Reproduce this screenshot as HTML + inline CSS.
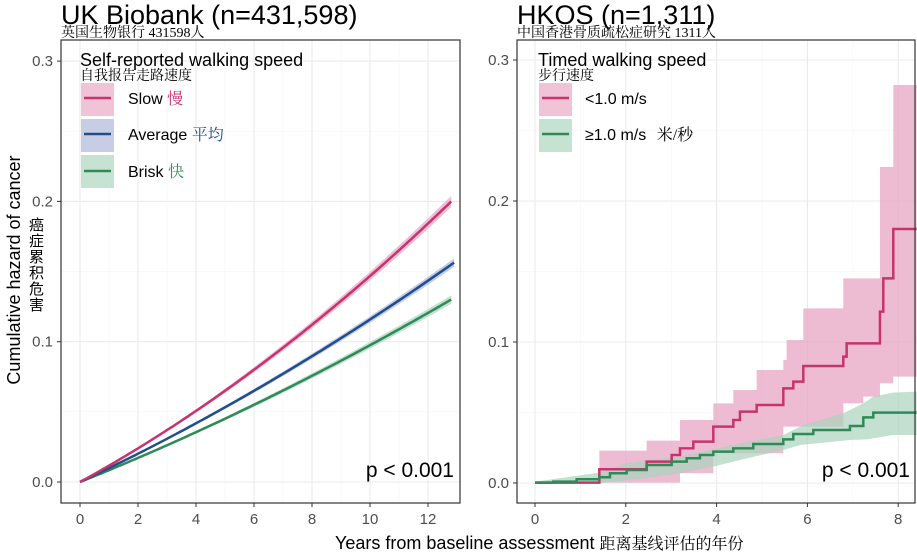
<!DOCTYPE html>
<html><head><meta charset="utf-8"><style>
body{margin:0;background:#fff;width:917px;height:553px;overflow:hidden}
svg{display:block}
text{font-family:"Liberation Sans",sans-serif}
.cn{font-family:"Liberation Serif","Noto Serif CJK SC",serif}
.tk{fill:#4d4d4d;font-size:15px}
</style></head><body>
<svg id="s" width="917" height="553" viewBox="0 0 917 553">
<g id="grid"></g>
<path id="lsb" fill="#e7a5c4" opacity="0.7"/>
<path id="lab" fill="#aab6d8" opacity="0.7"/>
<path id="lbb" fill="#a9d3bd" opacity="0.7"/>
<path id="lb" fill="none" stroke="#2e8b57" stroke-width="2.5"/>
<path id="la" fill="none" stroke="#1f4e8c" stroke-width="2.5"/>
<path id="ls" fill="none" stroke="#c8336e" stroke-width="2.5"/>
<g transform="translate(500,240) scale(0.3333)">
<path fill="#e7a5c4" opacity="0.75" d="M298,728 L298,632 440,632 440,602 540,602 540,540 640,540 640,490 700,490 700,450 770,450 770,390 850,390 850,360 860,360 860,300 910,300 910,205 1030,205 1030,115 1140,115 1140,-219 1180,-219 1180,-465 1250,-465 1250,410 1180,410 1180,430 1140,430 1140,470 1090,470 1090,490 1030,490 1030,560 850,560 850,640 640,640 640,700 540,700 540,728 Z"/>
<path fill="#a9d3bd" opacity="0.7" d="M105,728 L105,725 200,712 298,698 380,670 440,660 540,650 640,628 720,610 850,585 910,555 1030,520 1090,490 1120,470 1180,458 1250,455 1250,585 1180,585 1100,598 1050,600 900,615 850,630 720,660 640,680 540,700 440,715 298,730 200,732 105,730Z"/>
<path fill="none" stroke="#c8336e" stroke-width="7.5" d="M105,728 H298 V688 H440 V665 H515 V645 H540 V625 H580 V605 H640 V560 H700 V540 H720 V515 H770 V495 H850 V445 H880 V425 H910 V378 H1030 V350 H1040 V310 H1140 V215 H1150 V115 H1180 V-33 H1250"/>
<path fill="none" stroke="#2e8b57" stroke-width="7.5" d="M105,728 H160 V725 H230 V718 H298 V712 H330 V700 H380 V690 H440 V675 H515 V665 H560 V655 H600 V645 H640 V635 H700 V625 H760 V612 H850 V598 H880 V582 H940 V570 H1050 V558 H1090 V532 H1120 V518 H1250"/>
</g>
<rect x="61" y="40" width="399" height="463" fill="none" stroke="#333" stroke-width="1.2"/>
<rect x="517" y="40" width="398" height="463" fill="none" stroke="#333" stroke-width="1.2"/>
<g id="ticks"></g>
<text x="61" y="24" font-size="27" fill="#000">UK Biobank (n=431,598)</text>
<text x="61" y="37" class="cn" font-size="14">英国生物银行 431598人</text>
<text x="517" y="24" font-size="27">HKOS (n=1,311)</text>
<text x="517" y="37" class="cn" font-size="14">中国香港骨质疏松症研究 1311人</text>
<text x="80" y="66" font-size="18">Self-reported walking speed</text>
<text x="80" y="80" class="cn" font-size="14">自我报告走路速度</text>
<rect x="81" y="83" width="33" height="33" fill="#f1c3d7"/><line x1="84" y1="98" x2="111" y2="98" stroke="#c8336e" stroke-width="2.5"/>
<text x="128" y="104" font-size="16">Slow <tspan class="cn" fill="#c8336e">慢</tspan></text>
<rect x="81" y="119" width="33" height="33" fill="#c6cde5"/><line x1="84" y1="134" x2="111" y2="134" stroke="#1f4e8c" stroke-width="2.5"/>
<text x="128" y="140" font-size="16">Average <tspan class="cn" fill="#1f4e8c">平均</tspan></text>
<rect x="81" y="155" width="33" height="33" fill="#c6e2d2"/><line x1="84" y1="171" x2="111" y2="171" stroke="#2e8b57" stroke-width="2.5"/>
<text x="128" y="177" font-size="16">Brisk <tspan class="cn" fill="#2e8b57">快</tspan></text>
<text x="538" y="66" font-size="18">Timed walking speed</text>
<text x="538" y="80" class="cn" font-size="14">步行速度</text>
<rect x="539" y="83" width="33" height="33" fill="#f1c3d7"/><line x1="542" y1="98" x2="569" y2="98" stroke="#c8336e" stroke-width="2.5"/>
<text x="585" y="104" font-size="16">&lt;1.0 m/s</text>
<rect x="539" y="119" width="33" height="33" fill="#c6e2d2"/><line x1="542" y1="134" x2="569" y2="134" stroke="#2e8b57" stroke-width="2.5"/>
<text x="585" y="140" font-size="16">≥1.0 m/s <tspan class="cn" dx="6">米/秒</tspan></text>
<text x="454" y="477" font-size="21" text-anchor="end">p &lt; 0.001</text>
<text x="910" y="477" font-size="21" text-anchor="end">p &lt; 0.001</text>
<text transform="translate(20,270) rotate(-90)" font-size="18" text-anchor="middle">Cumulative hazard of cancer</text>
<g class="cn" font-size="15"><text x="29" y="230">癌</text><text x="29" y="246">症</text><text x="29" y="262">累</text><text x="29" y="278">积</text><text x="29" y="294">危</text><text x="29" y="310">害</text></g>
<text x="335" y="549" font-size="18">Years from baseline assessment <tspan class="cn" font-size="16">距离基线评估的年份</tspan></text>
</svg>
<script>
const NS="http://www.w3.org/2000/svg";
function el(p,t,a,txt){const e=document.createElementNS(NS,t);for(const k in a)e.setAttribute(k,a[k]);if(txt!==undefined)e.textContent=txt;p.appendChild(e);return e;}
const g=document.getElementById('grid'),tk=document.getElementById('ticks');
const lx=t=>80+29*t, ly=v=>482-1403*v;
const rx=t=>535+45.4*t, ry=v=>483-1410*v;
function panel(x0,x1,xs,xmax,yf){
  for(let v=0;v<=0.3001;v+=0.05){const maj=Math.abs(v*10-Math.round(v*10))<1e-6;
    el(g,'line',{x1:x0,x2:x1,y1:yf(v),y2:yf(v),stroke:maj?'#ebebeb':'#f4f4f4','stroke-width':maj?1.1:0.6});}
  for(let t=0;t<=xmax;t+=1){const maj=t%2==0;
    el(g,'line',{x1:xs(t),x2:xs(t),y1:40,y2:503,stroke:maj?'#ebebeb':'#f4f4f4','stroke-width':maj?1.1:0.6});}
  for(let v=0;v<=3;v++){el(tk,'line',{x1:x0-4,x2:x0,y1:yf(v/10),y2:yf(v/10),stroke:'#333'});
    el(tk,'text',{x:x0-8,y:yf(v/10)+5,'text-anchor':'end',class:'tk'},(v/10).toFixed(1));}
  for(let t=0;t<=xmax;t+=2){el(tk,'line',{x1:xs(t),x2:xs(t),y1:503,y2:507,stroke:'#333'});
    el(tk,'text',{x:xs(t),y:524,'text-anchor':'middle',class:'tk'},t);}
}
panel(61,460,lx,12.9,ly);
panel(517,915,rx,8.3,ry);
function curve(a,b,T,w){let up=[],dn=[],mid=[];
  for(let t=0;t<=T+1e-9;t+=0.1){const v=a*t+b*t*t;const wd=w*t/T;
    mid.push(lx(t).toFixed(1)+','+ly(v).toFixed(1));up.push(lx(t).toFixed(1)+','+ly(v+wd).toFixed(1));dn.unshift(lx(t).toFixed(1)+','+ly(v-wd).toFixed(1));}
  return ['M'+mid.join(' L'),'M'+up.join(' L')+' L'+dn.join(' L')+'Z'];}
let c=curve(0.01132,0.000336,12.8,0.004);document.getElementById('ls').setAttribute('d',c[0]);document.getElementById('lsb').setAttribute('d',c[1]);
c=curve(0.00971,0.000187,12.9,0.003);document.getElementById('la').setAttribute('d',c[0]);document.getElementById('lab').setAttribute('d',c[1]);
c=curve(0.00829,0.000146,12.8,0.003);document.getElementById('lb').setAttribute('d',c[0]);document.getElementById('lbb').setAttribute('d',c[1]);
</script>
</body></html>
